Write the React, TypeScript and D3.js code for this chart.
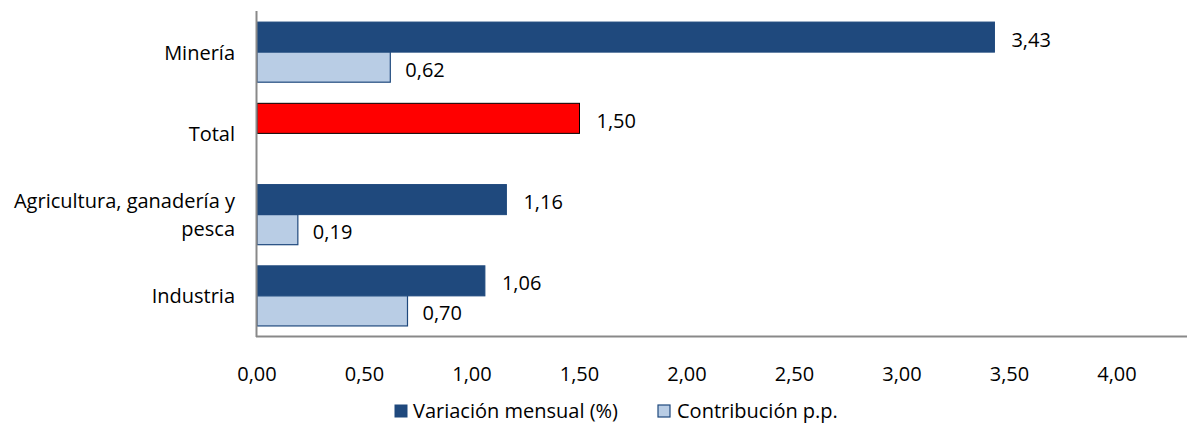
import React from "react";
import * as d3 from "d3";

const categories = ["Minería", "Total", "Agricultura, ganadería y pesca", "Industria"];
const categoryLines = [["Minería"], ["Total"], ["Agricultura, ganadería y", "pesca"], ["Industria"]];
const variacion: (number | null)[] = [3.43, 1.5, 1.16, 1.06];
const contribucion: (number | null)[] = [0.62, null, 0.19, 0.7];
const xTicks = [0, 0.5, 1, 1.5, 2, 2.5, 3, 3.5, 4];
const seriesNames = ["Variación mensual (%)", "Contribución p.p."];

const W = 1189, H = 423;
const FONT = "'Segoe UI', 'Open Sans', 'Noto Sans', sans-serif";
const DARK = "#1F497D";
const LIGHT = "#B9CDE5";

export default function App() {
  const x = d3.scaleLinear().domain([0, 4]).range([257, 1117]);
  const y = d3.scaleBand<string>().domain(categories).range([11.5, 336.5]).paddingInner(0.26).paddingOuter(0.13);
  const inner = d3.scaleBand<string>().domain(["v", "c"]).range([0, y.bandwidth()]);
  const fmt = (v: number) => d3.format(".2f")(v).replace(".", ",");
  const fs = 20;
  const labelDy = 2.5;

  return (
    <svg width={W} height={H} style={{ position: "absolute", left: 0, top: 0, background: "#fff" }} fontFamily={FONT}>
      <rect width={W} height={H} fill="#fff" />
      {categories.map((c, i) => {
        const b = y(c)!;
        const v = variacion[i];
        const cv = contribucion[i];
        const isTotal = c === "Total";
        return (
          <g key={c}>
            {v != null && (
              <>
                <rect x={x(0)} y={b + inner("v")!} width={x(v) - x(0)} height={inner.bandwidth()}
                  fill={isTotal ? "#FF0000" : DARK} stroke={isTotal ? "#000" : DARK} strokeWidth={1} />
                <text x={x(v) + 17} y={b + inner("v")! + inner.bandwidth() / 2 + labelDy} dy="0.35em" fontSize={fs} fill="#000">{fmt(v)}</text>
              </>
            )}
            {cv != null && (
              <>
                <rect x={x(0)} y={b + inner("c")!} width={x(cv) - x(0)} height={inner.bandwidth()}
                  fill={LIGHT} stroke={DARK} strokeWidth={1.2} />
                <text x={x(cv) + 15} y={b + inner("c")! + inner.bandwidth() / 2 + labelDy} dy="0.35em" fontSize={fs} fill="#000">{fmt(cv)}</text>
              </>
            )}
          </g>
        );
      })}
      {categories.map((c, i) => {
        const lines = categoryLines[i];
        const cy = y(c)! + y.bandwidth() / 2;
        const lh = 28;
        return (
          <text key={c} x={235} textAnchor="end" fontSize={fs} fill="#000">
            {lines.map((l, j) => (
              <tspan key={j} x={235} y={cy + (j - (lines.length - 1) / 2) * lh + 0.5} dy="0.35em">{l}</tspan>
            ))}
          </text>
        );
      })}
      <line x1={256.5} x2={256.5} y1={11} y2={337} stroke="#898989" strokeWidth={2} />
      <line x1={256} x2={1187} y1={336.5} y2={336.5} stroke="#898989" strokeWidth={2} />
      {xTicks.map((t) => (
        <text key={t} x={x(t)} y={373.5} dy="0.35em" textAnchor="middle" fontSize={fs} fill="#000">{fmt(t)}</text>
      ))}
      <g>
        <rect x={395} y={405} width={12} height={12} fill={DARK} stroke={DARK} />
        <text x={413} y={411} dy="0.35em" fontSize={fs} fill="#000">{seriesNames[0]}</text>
        <rect x={658} y={405} width={12} height={12} fill={LIGHT} stroke={DARK} strokeWidth={1.2} />
        <text x={677} y={411} dy="0.35em" fontSize={fs} fill="#000">{seriesNames[1]}</text>
      </g>
    </svg>
  );
}
